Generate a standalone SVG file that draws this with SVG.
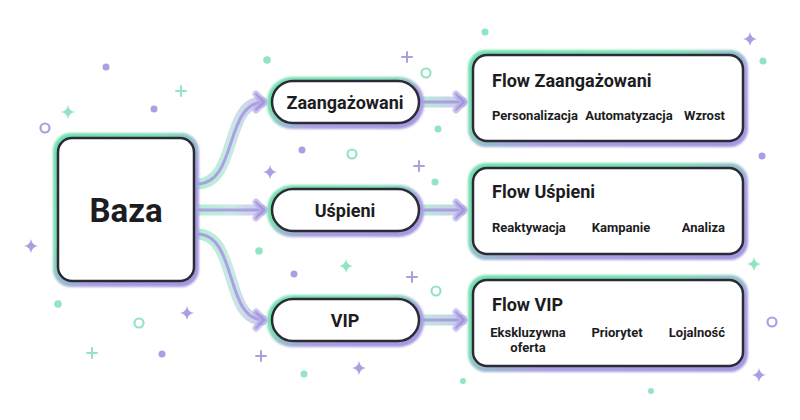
<svg xmlns="http://www.w3.org/2000/svg" width="800" height="420" viewBox="0 0 800 420">
  <style>
    .txt { font-family: Roboto, "Liberation Sans", sans-serif; font-weight: 700; fill: #1c1c22; }
    .box { fill: #ffffff; stroke: #2b2b36; stroke-width: 2.5; }
    .glow { fill: url(#glowGrad); filter: url(#soft); }
    .band { fill: none; stroke-width: 11; stroke-linecap: round; opacity: 0.55; }
    .core { fill: none; stroke: #a596e0; stroke-width: 3; stroke-linecap: round; opacity: 0.85; }
    .dp { fill: #ab9fe2; }
    .dg { fill: #93e4c0; }
    .rp { fill: none; stroke: #ab9fe2; stroke-width: 2.2; }
    .rg { fill: none; stroke: #93e4c0; stroke-width: 2.2; }
    .pp { stroke: #ab9fe2; stroke-width: 2; stroke-linecap: round; }
    .pg { stroke: #93e4c0; stroke-width: 2; stroke-linecap: round; }
  </style>
  <defs>
    <linearGradient id="glowGrad" x1="0" y1="0" x2="1" y2="1">
      <stop offset="0" stop-color="#6fe0ad"/>
      <stop offset="0.38" stop-color="#7fdcb6"/>
      <stop offset="0.62" stop-color="#ab9fe2"/>
      <stop offset="1" stop-color="#a596e0"/>
    </linearGradient>
    <linearGradient id="bandL" gradientUnits="userSpaceOnUse" x1="196" y1="0" x2="266" y2="0">
      <stop offset="0" stop-color="#6fe0ad"/>
      <stop offset="0.5" stop-color="#9ed6cf"/>
      <stop offset="1" stop-color="#a596e0"/>
    </linearGradient>
    <linearGradient id="bandR" gradientUnits="userSpaceOnUse" x1="420" y1="0" x2="468" y2="0">
      <stop offset="0" stop-color="#7fdcb6"/>
      <stop offset="1" stop-color="#a596e0"/>
    </linearGradient>
    <filter id="soft" x="-10%" y="-10%" width="120%" height="120%">
      <feGaussianBlur stdDeviation="1.2"/>
    </filter>
    <marker id="chev" markerUnits="userSpaceOnUse" viewBox="-14 -14 20 28" refX="0" refY="0" markerWidth="20" markerHeight="28" orient="auto" overflow="visible">
      <path d="M-8,-8 L0,0 L-8,8" fill="none" stroke="#b4a9e6" stroke-width="7" stroke-linecap="round" stroke-linejoin="round" opacity="0.75"/>
      <path d="M-8,-8 L0,0 L-8,8" fill="none" stroke="#9d8edd" stroke-width="2.5" stroke-linecap="round" stroke-linejoin="round"/>
    </marker>
    <path id="spark" d="M0,-7 Q1,-1 7,0 Q1,1 0,7 Q-1,1 -7,0 Q-1,-1 0,-7Z"/>
  </defs>

  <rect width="800" height="420" fill="#ffffff"/>

  <!-- decorations -->
  <g id="decor">
    <circle class="dp" cx="106" cy="67" r="3.5"/>
    <circle class="dg" cx="267" cy="60" r="3.8"/>
    <circle class="dp" cx="154" cy="109" r="3.5"/>
    <circle class="rp" cx="45" cy="128" r="4.5"/>
    <circle class="dg" cx="485" cy="32" r="3.5"/>
    <circle class="dg" cx="763" cy="61" r="3.5"/>
    <circle class="dp" cx="302" cy="150" r="3.5"/>
    <circle class="rg" cx="352" cy="154" r="4.5"/>
    <circle class="dg" cx="438" cy="129" r="3.5"/>
    <circle class="rg" cx="426" cy="73" r="4.5"/>
    <circle class="dg" cx="435" cy="182" r="3.5"/>
    <circle class="dg" cx="259" cy="251" r="3.8"/>
    <circle class="dp" cx="294" cy="274" r="3.5"/>
    <circle class="rg" cx="436" cy="291" r="4.5"/>
    <circle class="dg" cx="58" cy="304" r="3.8"/>
    <circle class="rg" cx="139" cy="323" r="4.5"/>
    <circle class="dp" cx="162" cy="354" r="3.5"/>
    <circle class="dg" cx="304" cy="374" r="3.5"/>
    <circle class="dp" cx="762" cy="156" r="3.5"/>
    <circle class="rp" cx="772" cy="322" r="4.5"/>
    <circle class="dg" cx="463" cy="381" r="3"/>
    <circle class="dg" cx="651" cy="391" r="3"/>

    <use href="#spark" class="dp" x="750" y="39"/>
    <use href="#spark" class="dg" x="68" y="112"/>
    <use href="#spark" class="dp" x="270" y="172"/>
    <use href="#spark" class="dg" x="346" y="266"/>
    <use href="#spark" class="dp" x="187" y="313"/>
    <use href="#spark" class="dp" x="359" y="368"/>
    <use href="#spark" class="dp" x="31" y="246"/>
    <use href="#spark" class="dg" x="754" y="264"/>
    <use href="#spark" class="dp" x="759" y="375"/>

    <path class="pg" d="M181,86 v10 M176,91 h10"/>
    <path class="pp" d="M407,52 v10 M402,57 h10"/>
    <path class="pp" d="M419,161 v10 M414,166 h10"/>
    <path class="pp" d="M412,272 v10 M407,277 h10"/>
    <path class="pp" d="M261,351 v10 M256,356 h10"/>
    <path class="pg" d="M92,348 v10 M87,353 h10"/>
  </g>

  <!-- connectors -->
  <g id="connectors">
    <path class="band" stroke="url(#bandL)" d="M197,184 C238,184 224,102 262,102"/>
    <path class="core" d="M197,184 C238,184 224,102 264,102" marker-end="url(#chev)"/>
    <path class="band" stroke="url(#bandL)" d="M197,210 L262,210"/>
    <path class="core" d="M197,210 L264,210" marker-end="url(#chev)"/>
    <path class="band" stroke="url(#bandL)" d="M197,234 C238,234 224,320 262,320"/>
    <path class="core" d="M197,234 C238,234 224,320 264,320" marker-end="url(#chev)"/>

    <path class="band" stroke="url(#bandR)" d="M421,102 L462,102"/>
    <path class="core" d="M421,102 L464,102" marker-end="url(#chev)"/>
    <path class="band" stroke="url(#bandR)" d="M421,210 L462,210"/>
    <path class="core" d="M421,210 L464,210" marker-end="url(#chev)"/>
    <path class="band" stroke="url(#bandR)" d="M421,320 L462,320"/>
    <path class="core" d="M421,320 L464,320" marker-end="url(#chev)"/>
  </g>

  <!-- nodes -->
  <g id="baza">
    <rect class="glow" x="53" y="133" width="146" height="154" rx="18"/>
    <rect class="box" x="58" y="138" width="136" height="143" rx="14"/>
    <text class="txt" x="126" y="222" font-size="33" text-anchor="middle">Baza</text>
  </g>

  <g id="zaangazowani">
    <rect class="glow" x="267" y="77" width="157" height="52" rx="25"/>
    <rect class="box" x="272" y="81" width="147" height="42" rx="21"/>
    <text class="txt" x="345" y="109" font-size="18" text-anchor="middle">Zaangażowani</text>
  </g>

  <g id="uspieni">
    <rect class="glow" x="267" y="185" width="157" height="52" rx="25"/>
    <rect class="box" x="272" y="189" width="147" height="42" rx="21"/>
    <text class="txt" x="345" y="217" font-size="18" text-anchor="middle">Uśpieni</text>
  </g>

  <g id="vip">
    <rect class="glow" x="267" y="295" width="157" height="52" rx="25"/>
    <rect class="box" x="272" y="299" width="147" height="42" rx="21"/>
    <text class="txt" x="345" y="327" font-size="18" text-anchor="middle">VIP</text>
  </g>

  <g id="flow-zaangazowani">
    <rect class="glow" x="468" y="50" width="280" height="97" rx="18"/>
    <rect class="box" x="473" y="55" width="270" height="86" rx="14"/>
    <text class="txt" x="492" y="87" font-size="18">Flow Zaangażowani</text>
    <text class="txt" x="492" y="120" font-size="13">Personalizacja</text>
    <text class="txt" x="629" y="120" font-size="13" text-anchor="middle">Automatyzacja</text>
    <text class="txt" x="725" y="120" font-size="13" text-anchor="end">Wzrost</text>
  </g>

  <g id="flow-uspieni">
    <rect class="glow" x="468" y="163" width="280" height="97" rx="18"/>
    <rect class="box" x="473" y="168" width="270" height="86" rx="14"/>
    <text class="txt" x="492" y="198" font-size="18">Flow Uśpieni</text>
    <text class="txt" x="492" y="232" font-size="13">Reaktywacja</text>
    <text class="txt" x="621" y="232" font-size="13" text-anchor="middle">Kampanie</text>
    <text class="txt" x="725" y="232" font-size="13" text-anchor="end">Analiza</text>
  </g>

  <g id="flow-vip">
    <rect class="glow" x="468" y="275" width="280" height="97" rx="18"/>
    <rect class="box" x="473" y="280" width="270" height="86" rx="14"/>
    <text class="txt" x="492" y="311" font-size="18">Flow VIP</text>
    <text class="txt" x="528" y="337" font-size="13" text-anchor="middle">Ekskluzywna</text>
    <text class="txt" x="528" y="352" font-size="13" text-anchor="middle">oferta</text>
    <text class="txt" x="617" y="337" font-size="13" text-anchor="middle">Priorytet</text>
    <text class="txt" x="725" y="337" font-size="13" text-anchor="end">Lojalność</text>
  </g>
</svg>
